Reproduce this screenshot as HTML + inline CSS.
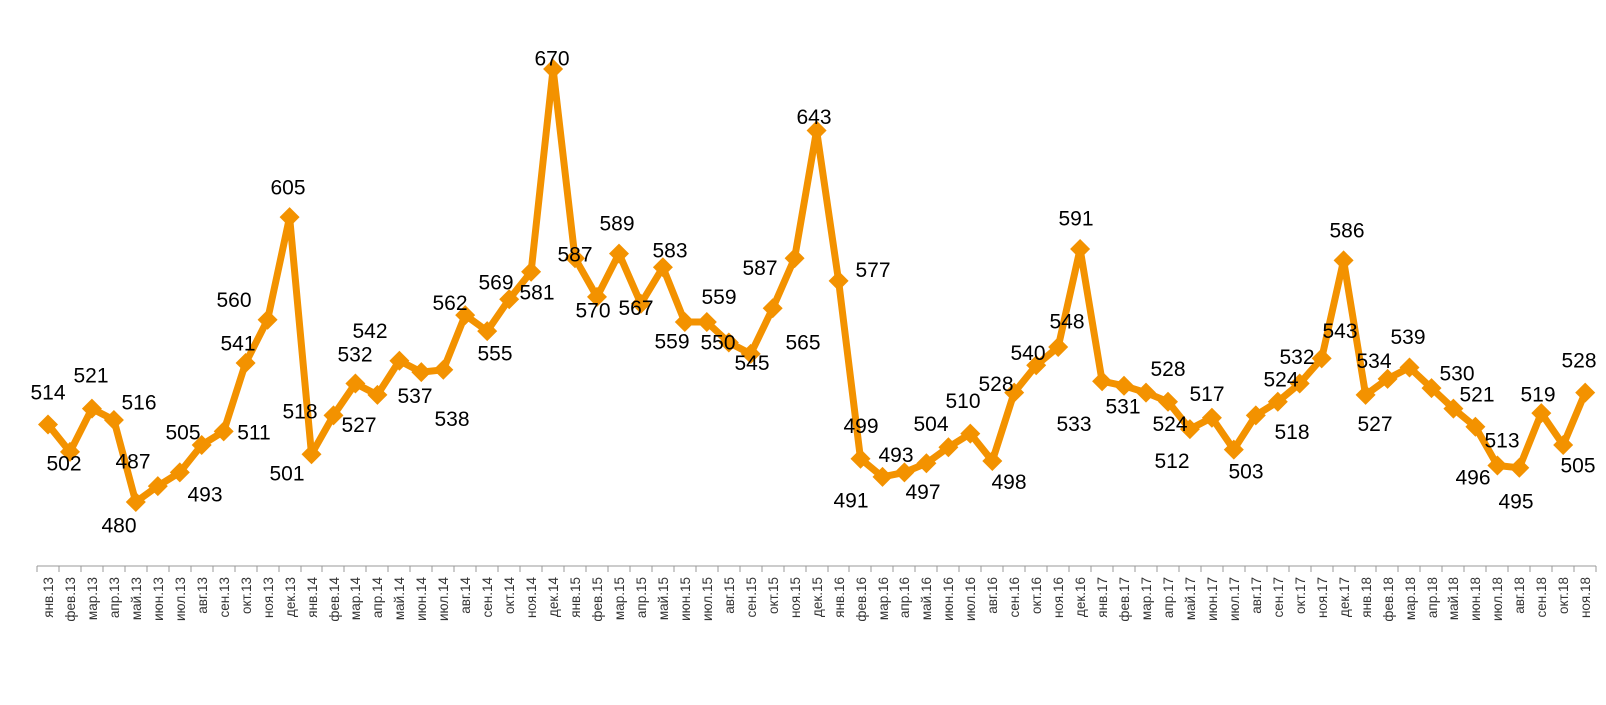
<!DOCTYPE html>
<html><head><meta charset="utf-8"><style>
html,body{margin:0;padding:0;background:#fff;}
svg{display:block;}
.v{font-family:"Liberation Sans",sans-serif;font-size:21px;fill:#000;text-anchor:middle;}
.t{font-family:"Liberation Sans",sans-serif;font-size:13.5px;fill:#333;text-anchor:end;}
</style></head><body>
<svg width="1606" height="705" viewBox="0 0 1606 705" xmlns="http://www.w3.org/2000/svg">
<defs><path id="d" d="M0,-10 L10,0 L0,10 L-10,0Z" fill="#F39200"/></defs>
<line x1="37" y1="566" x2="1596" y2="566" stroke="#999" stroke-width="1"/>
<polyline fill="none" stroke="#F39200" stroke-width="7" stroke-linejoin="round" points="
48.0,424.5 70.0,451.9 91.9,408.6 113.9,420.0 135.8,502.0 157.8,486.1 179.8,472.4 201.7,445.0 223.7,431.4 245.6,363.0 267.6,319.7 289.6,217.1
311.5,454.2 333.5,415.4 355.4,383.5 377.4,394.9 399.4,360.7 421.3,372.1 443.3,369.8 465.2,315.1 487.2,331.1 509.2,299.2 531.1,271.8 553.1,69
575.0,258.2 597.0,296.9 619.0,253.6 640.9,303.7 662.9,267.3 684.8,322.0 706.8,322.0 728.8,342.5 750.7,353.9 772.7,308.3 794.6,258.2 816.6,130.5
838.6,280.9 860.5,458.7 882.5,476.9 904.4,472.4 926.4,463.3 948.4,447.3 970.3,433.6 992.3,461.0 1014.2,392.6 1036.2,365.3 1058.2,347.0 1080.1,249.0
1102.1,381.2 1124.0,385.8 1146.0,392.6 1168.0,401.7 1189.9,429.1 1211.9,417.7 1233.8,449.6 1255.8,415.4 1277.8,401.7 1299.7,383.5 1321.7,358.4 1343.6,260.4
1365.6,394.9 1387.6,378.9 1409.5,367.5 1431.5,388.1 1453.4,408.6 1475.4,426.8 1497.4,465.5 1519.3,467.8 1541.3,413.1 1563.2,445.0 1585.2,392.6"/>
<g>
<use href="#d" x="48.0" y="424.5"/><use href="#d" x="70.0" y="451.9"/><use href="#d" x="91.9" y="408.6"/><use href="#d" x="113.9" y="420.0"/><use href="#d" x="135.8" y="502.0"/><use href="#d" x="157.8" y="486.1"/><use href="#d" x="179.8" y="472.4"/><use href="#d" x="201.7" y="445.0"/><use href="#d" x="223.7" y="431.4"/><use href="#d" x="245.6" y="363.0"/><use href="#d" x="267.6" y="319.7"/><use href="#d" x="289.6" y="217.1"/>
<use href="#d" x="311.5" y="454.2"/><use href="#d" x="333.5" y="415.4"/><use href="#d" x="355.4" y="383.5"/><use href="#d" x="377.4" y="394.9"/><use href="#d" x="399.4" y="360.7"/><use href="#d" x="421.3" y="372.1"/><use href="#d" x="443.3" y="369.8"/><use href="#d" x="465.2" y="315.1"/><use href="#d" x="487.2" y="331.1"/><use href="#d" x="509.2" y="299.2"/><use href="#d" x="531.1" y="271.8"/><use href="#d" x="553.1" y="69"/>
<use href="#d" x="575.0" y="258.2"/><use href="#d" x="597.0" y="296.9"/><use href="#d" x="619.0" y="253.6"/><use href="#d" x="640.9" y="303.7"/><use href="#d" x="662.9" y="267.3"/><use href="#d" x="684.8" y="322.0"/><use href="#d" x="706.8" y="322.0"/><use href="#d" x="728.8" y="342.5"/><use href="#d" x="750.7" y="353.9"/><use href="#d" x="772.7" y="308.3"/><use href="#d" x="794.6" y="258.2"/><use href="#d" x="816.6" y="130.5"/>
<use href="#d" x="838.6" y="280.9"/><use href="#d" x="860.5" y="458.7"/><use href="#d" x="882.5" y="476.9"/><use href="#d" x="904.4" y="472.4"/><use href="#d" x="926.4" y="463.3"/><use href="#d" x="948.4" y="447.3"/><use href="#d" x="970.3" y="433.6"/><use href="#d" x="992.3" y="461.0"/><use href="#d" x="1014.2" y="392.6"/><use href="#d" x="1036.2" y="365.3"/><use href="#d" x="1058.2" y="347.0"/><use href="#d" x="1080.1" y="249.0"/>
<use href="#d" x="1102.1" y="381.2"/><use href="#d" x="1124.0" y="385.8"/><use href="#d" x="1146.0" y="392.6"/><use href="#d" x="1168.0" y="401.7"/><use href="#d" x="1189.9" y="429.1"/><use href="#d" x="1211.9" y="417.7"/><use href="#d" x="1233.8" y="449.6"/><use href="#d" x="1255.8" y="415.4"/><use href="#d" x="1277.8" y="401.7"/><use href="#d" x="1299.7" y="383.5"/><use href="#d" x="1321.7" y="358.4"/><use href="#d" x="1343.6" y="260.4"/>
<use href="#d" x="1365.6" y="394.9"/><use href="#d" x="1387.6" y="378.9"/><use href="#d" x="1409.5" y="367.5"/><use href="#d" x="1431.5" y="388.1"/><use href="#d" x="1453.4" y="408.6"/><use href="#d" x="1475.4" y="426.8"/><use href="#d" x="1497.4" y="465.5"/><use href="#d" x="1519.3" y="467.8"/><use href="#d" x="1541.3" y="413.1"/><use href="#d" x="1563.2" y="445.0"/><use href="#d" x="1585.2" y="392.6"/>
</g>
<g class="v">
<text x="48" y="399.5">514</text><text x="64" y="470.5">502</text><text x="91" y="382.5">521</text><text x="139" y="409.5">516</text><text x="133" y="468.5">487</text><text x="119" y="532.5">480</text><text x="183" y="439.5">505</text><text x="205" y="501.5">493</text><text x="254" y="439.5">511</text><text x="238" y="350.5">541</text><text x="234" y="307">560</text><text x="288" y="194.5">605</text>
<text x="287" y="480.5">501</text><text x="300" y="418.5">518</text><text x="355" y="361.5">532</text><text x="359" y="432">527</text><text x="370" y="338">542</text><text x="415" y="403">537</text><text x="452" y="426">538</text><text x="450" y="310">562</text><text x="495" y="360.5">555</text><text x="496" y="289.5">569</text><text x="537" y="299.5">581</text><text x="552" y="65.5">670</text>
<text x="575" y="261.5">587</text><text x="593" y="317.5">570</text><text x="617" y="230.5">589</text><text x="636" y="315">567</text><text x="670" y="257.5">583</text><text x="672" y="348.5">559</text><text x="719" y="304">559</text><text x="718" y="349.5">550</text><text x="752" y="370">545</text><text x="803" y="349.5">565</text><text x="760" y="275">587</text><text x="814" y="124">643</text>
<text x="873" y="277">577</text><text x="861" y="433">499</text><text x="851" y="507.5">491</text><text x="896" y="462">493</text><text x="931" y="431">504</text><text x="923" y="499">497</text><text x="963" y="408">510</text><text x="1009" y="489">498</text><text x="996" y="391">528</text><text x="1028" y="360">540</text><text x="1067" y="328.5">548</text><text x="1076" y="225.5">591</text>
<text x="1074" y="431">533</text><text x="1123" y="413.5">531</text><text x="1170" y="431">524</text><text x="1168" y="376">528</text><text x="1172" y="468">512</text><text x="1207" y="401">517</text><text x="1246" y="478.5">503</text><text x="1292" y="439">518</text><text x="1281" y="386.5">524</text><text x="1297" y="364">532</text><text x="1340" y="338">543</text><text x="1347" y="237.5">586</text>
<text x="1375" y="431">527</text><text x="1374" y="368">534</text><text x="1408" y="344">539</text><text x="1457" y="380.5">530</text><text x="1477" y="401.5">521</text><text x="1502" y="447.5">513</text><text x="1473" y="484.5">496</text><text x="1516" y="508.5">495</text><text x="1538" y="401.5">519</text><text x="1578" y="472.5">505</text><text x="1579" y="367.5">528</text>
</g>
<g stroke="#999" stroke-width="1">
<path d="M37,566v6M59,566v6M81,566v6M103,566v6M125,566v6M147,566v6M169,566v6M191,566v6M213,566v6M235,566v6M257,566v6M279,566v6M301,566v6M322,566v6M344,566v6M366,566v6M388,566v6M410,566v6M432,566v6M454,566v6M476,566v6M498,566v6M520,566v6M542,566v6M564,566v6M586,566v6M608,566v6M630,566v6M652,566v6M674,566v6M696,566v6M718,566v6M740,566v6M762,566v6M784,566v6M806,566v6M828,566v6M849,566v6M871,566v6M893,566v6M915,566v6M937,566v6M959,566v6M981,566v6M1003,566v6M1025,566v6M1047,566v6M1069,566v6M1091,566v6M1113,566v6M1135,566v6M1157,566v6M1179,566v6M1201,566v6M1223,566v6M1245,566v6M1267,566v6M1289,566v6M1311,566v6M1333,566v6M1355,566v6M1376,566v6M1398,566v6M1420,566v6M1442,566v6M1464,566v6M1486,566v6M1508,566v6M1530,566v6M1552,566v6M1574,566v6M1596,566v6"/>
</g>
<g class="t">
<text transform="translate(53,577) rotate(-90)">янв.13</text><text transform="translate(75,577) rotate(-90)">фев.13</text><text transform="translate(97,577) rotate(-90)">мар.13</text><text transform="translate(119,577) rotate(-90)">апр.13</text><text transform="translate(141,577) rotate(-90)">май.13</text><text transform="translate(163,577) rotate(-90)">июн.13</text><text transform="translate(185,577) rotate(-90)">июл.13</text><text transform="translate(207,577) rotate(-90)">авг.13</text><text transform="translate(229,577) rotate(-90)">сен.13</text><text transform="translate(251,577) rotate(-90)">окт.13</text><text transform="translate(273,577) rotate(-90)">ноя.13</text><text transform="translate(295,577) rotate(-90)">дек.13</text>
<text transform="translate(317,577) rotate(-90)">янв.14</text><text transform="translate(339,577) rotate(-90)">фев.14</text><text transform="translate(360,577) rotate(-90)">мар.14</text><text transform="translate(382,577) rotate(-90)">апр.14</text><text transform="translate(404,577) rotate(-90)">май.14</text><text transform="translate(426,577) rotate(-90)">июн.14</text><text transform="translate(448,577) rotate(-90)">июл.14</text><text transform="translate(470,577) rotate(-90)">авг.14</text><text transform="translate(492,577) rotate(-90)">сен.14</text><text transform="translate(514,577) rotate(-90)">окт.14</text><text transform="translate(536,577) rotate(-90)">ноя.14</text><text transform="translate(558,577) rotate(-90)">дек.14</text>
<text transform="translate(580,577) rotate(-90)">янв.15</text><text transform="translate(602,577) rotate(-90)">фев.15</text><text transform="translate(624,577) rotate(-90)">мар.15</text><text transform="translate(646,577) rotate(-90)">апр.15</text><text transform="translate(668,577) rotate(-90)">май.15</text><text transform="translate(690,577) rotate(-90)">июн.15</text><text transform="translate(712,577) rotate(-90)">июл.15</text><text transform="translate(734,577) rotate(-90)">авг.15</text><text transform="translate(756,577) rotate(-90)">сен.15</text><text transform="translate(778,577) rotate(-90)">окт.15</text><text transform="translate(800,577) rotate(-90)">ноя.15</text><text transform="translate(822,577) rotate(-90)">дек.15</text>
<text transform="translate(844,577) rotate(-90)">янв.16</text><text transform="translate(866,577) rotate(-90)">фев.16</text><text transform="translate(888,577) rotate(-90)">мар.16</text><text transform="translate(909,577) rotate(-90)">апр.16</text><text transform="translate(931,577) rotate(-90)">май.16</text><text transform="translate(953,577) rotate(-90)">июн.16</text><text transform="translate(975,577) rotate(-90)">июл.16</text><text transform="translate(997,577) rotate(-90)">авг.16</text><text transform="translate(1019,577) rotate(-90)">сен.16</text><text transform="translate(1041,577) rotate(-90)">окт.16</text><text transform="translate(1063,577) rotate(-90)">ноя.16</text><text transform="translate(1085,577) rotate(-90)">дек.16</text>
<text transform="translate(1107,577) rotate(-90)">янв.17</text><text transform="translate(1129,577) rotate(-90)">фев.17</text><text transform="translate(1151,577) rotate(-90)">мар.17</text><text transform="translate(1173,577) rotate(-90)">апр.17</text><text transform="translate(1195,577) rotate(-90)">май.17</text><text transform="translate(1217,577) rotate(-90)">июн.17</text><text transform="translate(1239,577) rotate(-90)">июл.17</text><text transform="translate(1261,577) rotate(-90)">авг.17</text><text transform="translate(1283,577) rotate(-90)">сен.17</text><text transform="translate(1305,577) rotate(-90)">окт.17</text><text transform="translate(1327,577) rotate(-90)">ноя.17</text><text transform="translate(1349,577) rotate(-90)">дек.17</text>
<text transform="translate(1371,577) rotate(-90)">янв.18</text><text transform="translate(1393,577) rotate(-90)">фев.18</text><text transform="translate(1415,577) rotate(-90)">мар.18</text><text transform="translate(1437,577) rotate(-90)">апр.18</text><text transform="translate(1458,577) rotate(-90)">май.18</text><text transform="translate(1480,577) rotate(-90)">июн.18</text><text transform="translate(1502,577) rotate(-90)">июл.18</text><text transform="translate(1524,577) rotate(-90)">авг.18</text><text transform="translate(1546,577) rotate(-90)">сен.18</text><text transform="translate(1568,577) rotate(-90)">окт.18</text><text transform="translate(1590,577) rotate(-90)">ноя.18</text>
</g>
</svg>
</body></html>
